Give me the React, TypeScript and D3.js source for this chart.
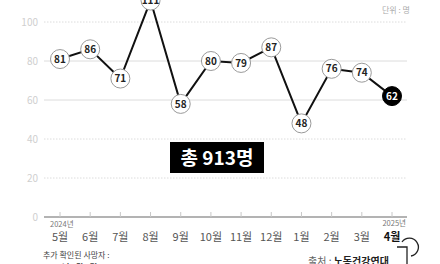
import React from "react";
import * as d3 from "d3";

const months = ["5월", "6월", "7월", "8월", "9월", "10월", "11월", "12월", "1월", "2월", "3월", "4월"];
const deaths = [81, 86, 71, 111, 58, 80, 79, 87, 48, 76, 74, 62];
const yTicks = [0, 20, 40, 60, 80, 100];
const dottedTicks = [20, 40, 100];

const W = 440, H = 264;
const FONT = "'Noto Sans CJK KR', 'Noto Sans', sans-serif";

export default function App() {
  const x = d3.scalePoint<string>().domain(months).range([60, 392]);
  const y = d3.scaleLinear().domain([0, 100]).range([217, 22]);
  const line = d3.line<number>().x((_, i) => x(months[i])!).y((d) => y(d));
  const last = deaths.length - 1;

  return (
    <svg width={W} height={H} style={{ position: "absolute", left: 0, top: 0, background: "#fff" }} fontFamily={FONT}>
      <rect width={W} height={H} fill="#fff" />
      {yTicks.filter((t) => t > 0).map((t) => (
        <line key={t} x1={44} x2={407} y1={y(t)} y2={y(t)} stroke="#dcdcdc" strokeWidth={1}
          strokeDasharray={dottedTicks.includes(t) ? "1.5 1.5" : undefined} />
      ))}
      {yTicks.map((t) => (
        <text key={t} x={38} y={y(t) + 4} textAnchor="end" fontSize={10} fill="#cfcfcf">{t}</text>
      ))}
      <line x1={44} x2={407} y1={y(0)} y2={y(0)} stroke="#9a9a9a" strokeWidth={1.5} />
      {months.map((m) => (
        <line key={m} x1={x(m)} x2={x(m)} y1={y(0) - 5} y2={y(0)} stroke="#c8c8c8" strokeWidth={1} />
      ))}
      <text x={382} y={13} fontSize={8} fill="#aaa">단위 : 명</text>
      <path d={line(deaths)!} fill="none" stroke="#111" strokeWidth={2} />
      {deaths.map((d, i) => (
        <g key={i} transform={`translate(${x(months[i])},${y(d)})`}>
          <circle r={9.5} fill={i === last ? "#000" : "#fff"} stroke={i === last ? "#000" : "#9a9a9a"} strokeWidth={1} />
          <text y={3.6} textAnchor="middle" fontSize={10} fontWeight={700} fill={i === last ? "#fff" : "#222"}>{d}</text>
        </g>
      ))}
      <rect x={170} y={142} width={94} height={31} fill="#000" />
      <text x={217} y={164.5} textAnchor="middle" fontSize={19} fontWeight={700} fill="#fff">총 913명</text>
      <text x={50} y={226.5} fontSize={7.5} fill="#777">2024년</text>
      <text x={406} y={226} textAnchor="end" fontSize={7.5} fill="#777">2025년</text>
      {months.map((m, i) => (
        <text key={m} x={x(m)} y={240.5} textAnchor="middle" fontSize={11}
          fontWeight={i === last ? 700 : 400} fill={i === last ? "#111" : "#555"}>{m}</text>
      ))}
      <text x={43} y={258} fontSize={8} fill="#444">추가 확인된 사망자 :</text>
      <text x={43} y={270} fontSize={8} fontWeight={700} fill="#444">2025년 3월 1명</text>
      <text x={308} y={265} fontSize={10} fill="#666">출처 : <tspan fontWeight={700} fill="#222">노동건강연대</tspan></text>
      <path d="M397,247 L407,247 L407,266 M402,242 A9,9 0 1 1 411,256" fill="none" stroke="#222" strokeWidth={1.3} />
    </svg>
  );
}
